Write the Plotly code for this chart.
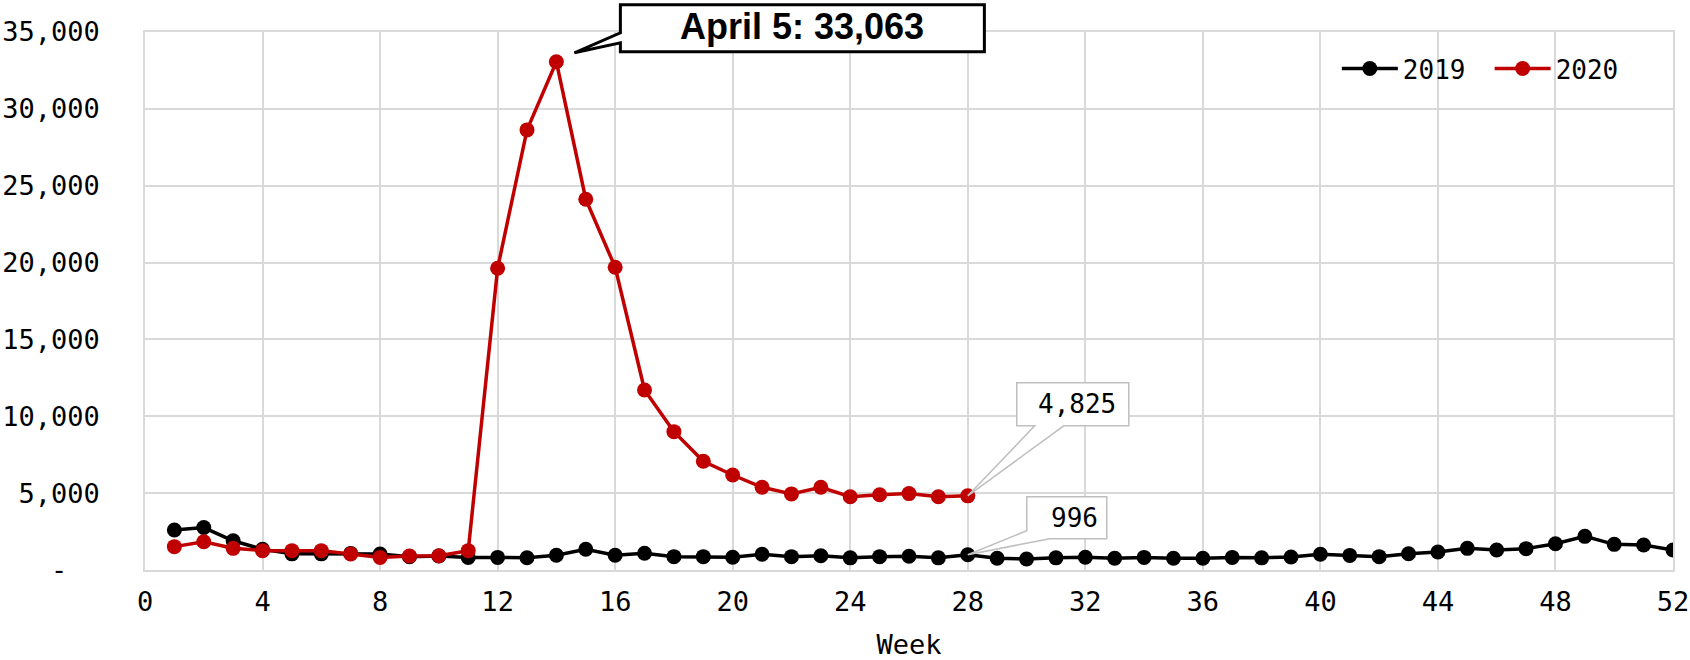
import plotly.graph_objects as go

# =====================================================
# DATA
# =====================================================

weeks_2019 = list(range(1, 53))
cases_2019 = [
    2600, 2760, 1900, 1350, 1050, 1050, 1080, 1040, 870, 910,
    820, 820, 800, 960, 1350, 960, 1090, 870, 870, 830,
    1020, 870, 930, 790, 870, 890, 790, 996, 760, 720,
    790, 830, 760, 820, 760, 760, 820, 790, 850, 1020,
    950, 870, 1060, 1170, 1410, 1300, 1390, 1710, 2190, 1670,
    1630, 1300,
]

weeks_2020 = list(range(1, 29))
cases_2020 = [
    1520, 1840, 1410, 1260, 1260, 1260, 1040, 820, 910, 930,
    1260, 19630, 28630, 33063, 24120, 19700, 11710, 9000, 7070, 6180,
    5380, 4950, 5380, 4770, 4900, 4970, 4770, 4825,
]

y_ticks = [0, 5000, 10000, 15000, 20000, 25000, 30000, 35000]
y_ticktext = ["-\u00a0\u00a0"] + [f"{v:,}" for v in y_ticks[1:]]
x_ticks = list(range(0, 53, 4))

peak_week = 14
peak_value = 33063
peak_label = "April 5: 33,063"
last_week = 28

MONO = "DejaVu Sans Mono"
Y_MAX = 35000

# =====================================================
# TRACES
# =====================================================

fig = go.Figure()

fig.add_trace(
    go.Scatter(
        x=weeks_2019,
        y=cases_2019,
        mode="lines+markers",
        name="2019",
        line=dict(color="#000000", width=3.5),
        marker=dict(color="#000000", size=15),
        legend="legend",
    )
)

fig.add_trace(
    go.Scatter(
        x=weeks_2020,
        y=cases_2020,
        mode="lines+markers",
        name="2020",
        line=dict(color="#C00000", width=3.5),
        marker=dict(color="#C00000", size=15),
        legend="legend2",
    )
)

# =====================================================
# CALLOUTS (pixel paths anchored on data points)
# =====================================================

def callout(week, value, path, line_color, line_width):
    fig.add_shape(
        type="path",
        xref="x",
        yref="paper",
        xsizemode="pixel",
        ysizemode="pixel",
        xanchor=week,
        yanchor=value / Y_MAX,
        path=path,
        fillcolor="white",
        line=dict(color=line_color, width=line_width),
        layer="above",
    )


callout(
    peak_week, peak_value,
    "M 64,57 L 428,57 L 428,10 L 64,10 L 64,19 L 18,9 L 64,29 Z",
    "#000000", 3,
)
fig.add_annotation(
    x=peak_week, y=peak_value, xref="x", yref="y",
    text=f"<b>{peak_label}</b>",
    showarrow=False, xshift=246, yshift=35,
    font=dict(family="Liberation Sans", size=36, color="#000000"),
)

v2020 = cases_2020[weeks_2020.index(last_week)]
callout(
    last_week, v2020,
    "M 49,113 L 161,113 L 161,70 L 96,70 L 0,0 L 67,70 L 49,70 Z",
    "#BFBFBF", 1.5,
)
fig.add_annotation(
    x=last_week, y=v2020, xref="x", yref="y",
    text=f"{v2020:,}",
    showarrow=False, xshift=109, yshift=92,
    font=dict(family=MONO, size=26, color="#000000"),
)

v2019 = cases_2019[weeks_2019.index(last_week)]
callout(
    last_week, v2019,
    "M 59,58 L 139,58 L 139,16 L 82,16 L 0,0 L 59,24 Z",
    "#BFBFBF", 1.5,
)
fig.add_annotation(
    x=last_week, y=v2019, xref="x", yref="y",
    text=f"{v2019:,}",
    showarrow=False, xshift=107, yshift=37,
    font=dict(family=MONO, size=26, color="#000000"),
)

# =====================================================
# LAYOUT
# =====================================================

legend_style = dict(
    orientation="h",
    y=0.932,
    xanchor="left",
    yanchor="middle",
    font=dict(family=MONO, size=26),
    bgcolor="rgba(0,0,0,0)",
    itemwidth=56,
)

fig.update_layout(
    width=1690,
    height=660,
    margin=dict(l=145, r=17, t=32, b=90, autoexpand=False),
    paper_bgcolor="white",
    plot_bgcolor="white",
    font=dict(family=MONO, size=27, color="#000000"),
    showlegend=True,
    legend=dict(x=0.780, **legend_style),
    legend2=dict(x=0.880, **legend_style),
)

fig.update_xaxes(
    range=[0, 52],
    tickvals=x_ticks,
    showgrid=True,
    gridcolor="#D9D9D9",
    gridwidth=1.5,
    showline=True,
    mirror=True,
    linecolor="#D9D9D9",
    linewidth=1.5,
    zeroline=False,
    ticks="",
    automargin=False,
    ticklabelstandoff=7,
    tickfont=dict(family=MONO, size=27),
    title=dict(text="Week", font=dict(family=MONO, size=27), standoff=21),
)

fig.update_yaxes(
    range=[0, Y_MAX],
    tickvals=y_ticks,
    ticktext=y_ticktext,
    showgrid=True,
    gridcolor="#D9D9D9",
    gridwidth=1.5,
    showline=True,
    mirror=True,
    linecolor="#D9D9D9",
    linewidth=1.5,
    zeroline=False,
    ticks="",
    automargin=False,
    ticklabelstandoff=38,
    tickfont=dict(family=MONO, size=27),
)

# body margin would push the fixed-size figure 8px off the window
fig.write_html(
    "out.html",
    config={"displayModeBar": False},
    post_script="document.body.style.margin='0';document.body.style.overflow='hidden';",
)
